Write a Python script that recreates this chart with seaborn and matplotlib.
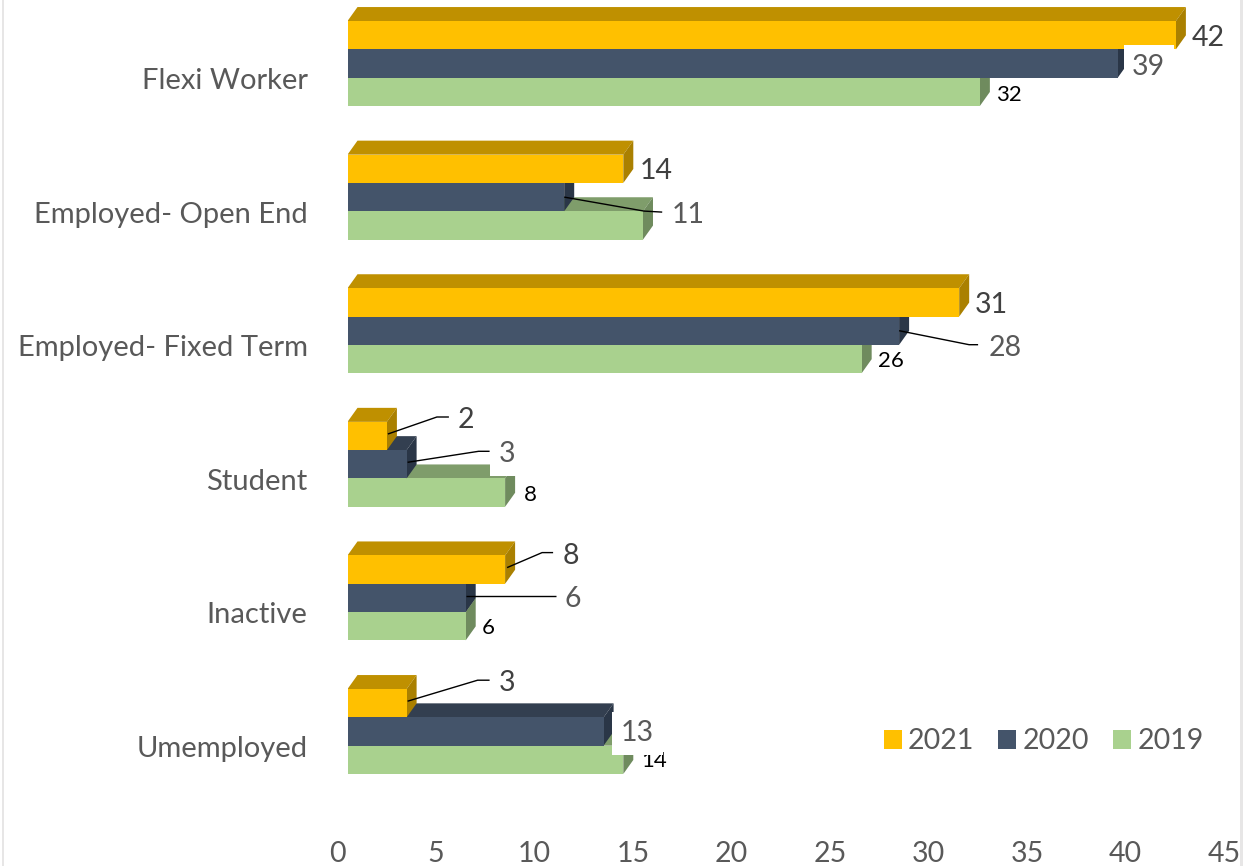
import matplotlib
matplotlib.use("Agg")
import matplotlib.pyplot as plt
from matplotlib.patches import Polygon, Rectangle
from matplotlib.transforms import ScaledTranslation
import pandas as pd
import seaborn as sns

# ---------------------------------------------------------------
# Data
# ---------------------------------------------------------------
categories = ["Flexi Worker", "Employed- Open End", "Employed- Fixed Term",
              "Student", "Inactive", "Umemployed"]
years = ["2021", "2020", "2019"]
values_2021 = [42.05, 14.0, 31.05, 2.0, 8.0, 3.0]
values_2020 = [39.1, 11.0, 28.0, 3.0, 6.0, 13.0]
values_2019 = [32.1, 15.0, 26.1, 8.0, 6.0, 14.0]
x_ticks = [0, 5, 10, 15, 20, 25, 30, 35, 40, 45]

colors = ["#FFC000", "#44546A", "#A9D18E"]
top_colors = ["#BF9000", "#333F50", "#7F9D6B"]
side_colors = ["#AA8000", "#2A3647", "#6F8B5E"]
label_colors = ["#404040", "#595959", "#000000"]
label_sizes = [20.5, 20.5, 16]

# label offset from the bar end, in pixels (y down)
label_offsets = {
    (0, 0): (31, 1), (0, 1): (30, 1.5), (0, 2): (28, 1),
    (1, 0): (32, 0), (1, 1): (123, 16),
    (2, 0): (31, 1), (2, 1): (105, 15), (2, 2): (28, 0),
    (3, 0): (78, -18), (3, 1): (99, -12), (3, 2): (24, 0),
    (4, 0): (65, -15.6), (4, 1): (106, -1), (4, 2): (22, 0),
    (5, 0): (99, -22), (5, 1): (33, 0), (5, 2): (30, -1),
}
# these labels have a white box that hides what lies under them
boxed_labels = [(0, 1), (1, 1), (3, 1), (5, 1)]
leaders = {
    (1, 1): [(0, 0), (80, 14), (98, 15)],
    (2, 1): [(0, 0), (70, 14), (79, 14)],
    (3, 0): [(1, -2), (50, -19), (62, -19)],
    (3, 1): [(1, -2), (72, -13), (83, -13)],
    (4, 0): [(2, -2), (37, -17), (48, -17)],
    (4, 1): [(0, -2), (90, -2)],
    (5, 0): [(1, -2), (71, -23), (83, -23)],
}

W, H = 1256, 866
DEPTH_X, DEPTH_Y = 10, 14  # fake 3D depth in pixels

df = pd.DataFrame({
    "status": categories * 3,
    "year": [y for y in years for _ in categories],
    "value": values_2021 + values_2020 + values_2019,
})

# ---------------------------------------------------------------
# Plot
# ---------------------------------------------------------------
sns.set_style("white")
plt.rcParams["font.family"] = ["Lato", "DejaVu Sans"]

fig = plt.figure(figsize=(W / 100, H / 100), dpi=100)
ax = fig.add_axes([347.5 / W, 1 - 840 / H, 886.5 / W, 840 / H])
sns.barplot(data=df, y="status", x="value", hue="year", order=categories,
            hue_order=years, palette=colors, saturation=1, width=0.6355,
            gap=0, linewidth=0, ax=ax)

ax.set_xlim(0, 45)
ax.set_ylim((840 - 63.5) / 133.6, -63.5 / 133.6)
ax.set_xlabel("")
ax.set_ylabel("")
ax.set_xticks(x_ticks)
sns.despine(ax=ax, left=True, bottom=True)
ax.tick_params(axis="x", length=0, pad=1, labelsize=20.5, labelcolor="#595959")
ax.tick_params(axis="y", length=0, pad=28.7, labelsize=21, labelcolor="#595959")

# Excel style tick labels sit off the bars' base line
for lab in ax.get_xticklabels():
    lab.set_transform(lab.get_transform() + ScaledTranslation(-10 / 100, 0, fig.dpi_scale_trans))
for lab in ax.get_yticklabels():
    lab.set_transform(lab.get_transform() + ScaledTranslation(0, -15 / 100, fig.dpi_scale_trans))

px_x = 886.5 / 45
px_y = 133.6
dx = DEPTH_X / px_x
dy = DEPTH_Y / px_y

# fake 3D: green first, then navy, then yellow in front
for h in [2, 1, 0]:
    z = 3 + (2 - h) * 3
    for bar in ax.containers[h]:
        x1 = bar.get_width()
        y0 = bar.get_y()
        y1 = y0 + bar.get_height()
        ax.add_patch(Polygon([(0, y0), (dx, y0 - dy), (x1 + dx, y0 - dy), (x1, y0)],
                             facecolor=top_colors[h], edgecolor="none", zorder=z))
        ax.add_patch(Polygon([(x1, y0), (x1 + dx, y0 - dy), (x1 + dx, y1 - dy), (x1, y1)],
                             facecolor=side_colors[h], edgecolor="none", zorder=z + 1))
        bar.set_zorder(z + 2)

# data labels and leader lines
for h in [2, 1, 0]:
    for c, bar in enumerate(ax.containers[h]):
        if (c, h) not in label_offsets:
            continue  # the 2019 Open End label is hidden by the box of the 11
        x1 = bar.get_width()
        yc = bar.get_y() + bar.get_height() / 2
        off = label_offsets[(c, h)]
        box = None
        if (c, h) in boxed_labels:
            box = dict(boxstyle="square,pad=0.3", facecolor="white", edgecolor="none")
        ax.annotate(f"{x1:.0f}", xy=(x1, yc), xytext=(off[0] + 1, -off[1] - 2),
                    textcoords="offset pixels", ha="center", va="center",
                    fontsize=label_sizes[h], color=label_colors[h], bbox=box,
                    zorder=20 + 2 - h, annotation_clip=False)
        if (c, h) in leaders:
            xs = [x1 + p[0] / px_x for p in leaders[(c, h)]]
            ys = [yc + p[1] / px_y for p in leaders[(c, h)]]
            ax.plot(xs, ys, color="black", lw=1.0, zorder=30, solid_capstyle="butt")

ax.set_xlim(0, 45)
sns.move_legend(ax, "lower left", bbox_to_anchor=(858 / W, 1 - 780 / H),
                bbox_transform=fig.transFigure, ncol=3, frameon=False, title=None,
                fontsize=20.5, handlelength=0.63, handleheight=0.63,
                handletextpad=0.22, columnspacing=0.85, labelcolor="#595959")

# pale frame of the pasted chart
for left in [1.5, 1240]:
    fig.add_artist(Rectangle((left / W, 0), 2.5 / W, 1, transform=fig.transFigure,
                             facecolor="#E7E6E6", edgecolor="none"))

fig.savefig("out.png", dpi=100)
